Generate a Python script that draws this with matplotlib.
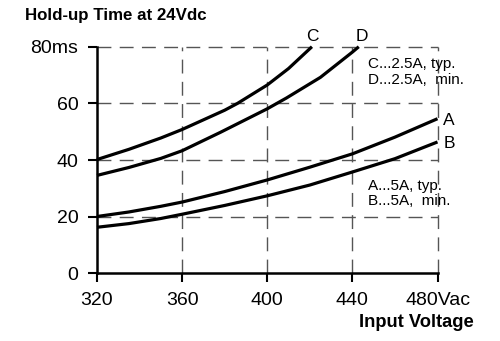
import matplotlib
matplotlib.use("Agg")
import matplotlib.pyplot as plt

plt.rcParams['font.family'] = ['Liberation Sans', 'DejaVu Sans']

# Data (input voltage Vac -> hold-up time ms)
volt_A = [320, 335, 350, 360, 380, 400, 420, 440, 460, 480]
hold_A = [20.1, 21.7, 23.7, 25.2, 28.9, 33.0, 37.5, 42.2, 48.1, 54.6]
volt_B = [320, 335, 350, 360, 380, 400, 420, 440, 460, 480]
hold_B = [16.3, 17.6, 19.4, 20.9, 24.0, 27.4, 31.2, 35.8, 40.5, 46.4]
volt_C = [320, 335, 350, 360, 380, 386, 400, 410, 421]
hold_C = [40.2, 43.8, 47.8, 50.8, 57.6, 60.0, 66.5, 72.3, 80.0]
volt_D = [320, 335, 350, 360, 378, 400, 409, 425, 440, 443]
hold_D = [34.6, 37.4, 40.6, 43.3, 49.8, 58.1, 61.9, 69.2, 78.1, 80.0]

x_ticks = [320, 360, 400, 440, 480]
x_labels = ['320', '360', '400', '440', '480Vac']
y_ticks = [0, 20, 40, 60, 80]
y_labels = ['0', '20', '40', '60', '80ms']

fig = plt.figure(figsize=(5.0, 3.41), dpi=100)
ax = fig.add_axes([0.194, 0.198, 0.681, 0.665])
ax.set_xlim(320, 480)
ax.set_ylim(0, 80)

for v, h in [(volt_A, hold_A), (volt_B, hold_B), (volt_C, hold_C), (volt_D, hold_D)]:
    ax.plot(v, h, color='black', lw=2.3, solid_capstyle='butt', solid_joinstyle='round',
            zorder=3, clip_on=False)

ax.set_xticks(x_ticks)
ax.set_xticklabels(x_labels)
ax.set_yticks(y_ticks)
ax.set_yticklabels(y_labels)
ax.tick_params(direction='out', length=6.5, width=1.5, labelsize=14, pad=7, colors='black')

for s in ['top', 'right']:
    ax.spines[s].set_visible(False)
for s in ['left', 'bottom']:
    ax.spines[s].set_linewidth(1.8)
    ax.spines[s].set_zorder(4)

for xv in x_ticks[1:]:
    ax.axvline(xv, color='#555555', lw=1.0, dashes=(10, 6), zorder=1, clip_on=False)
for yv in y_ticks[1:]:
    ax.axhline(yv, color='#555555', lw=1.0, dashes=(10, 6), zorder=1, clip_on=False)

# curve labels
ax.text(421.4, 83.7, 'C', fontsize=12.5, ha='center', va='center', clip_on=False)
ax.text(444.6, 83.7, 'D', fontsize=12.5, ha='center', va='center', clip_on=False)
ax.text(485.5, 54.0, 'A', fontsize=12.5, ha='center', va='center', clip_on=False)
ax.text(485.5, 46.0, 'B', fontsize=12.5, ha='center', va='center', clip_on=False)

ax.text(447.2, 72.4, 'C...2.5A, typ.', fontsize=11, ha='left', va='baseline')
ax.text(447.2, 67.0, 'D...2.5A,  min.', fontsize=11, ha='left', va='baseline')
ax.text(447.2, 29.4, 'A...5A, typ.', fontsize=11, ha='left', va='baseline')
ax.text(447.2, 24.0, 'B...5A,  min.', fontsize=11, ha='left', va='baseline')

fig.text(25/500, 1-20/341, 'Hold-up Time at 24Vdc', fontsize=12.2, fontweight='bold',
         ha='left', va='baseline')
fig.text(474/500, 1-327/341, 'Input Voltage', fontsize=13.2, fontweight='bold',
         ha='right', va='baseline')

fig.savefig('out.png', dpi=100)
